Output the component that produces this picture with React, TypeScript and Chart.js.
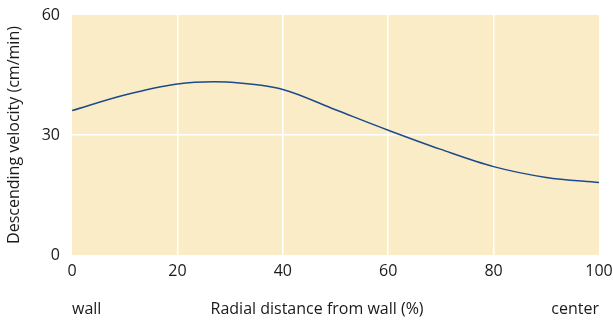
import React, { useEffect, useRef } from "react";
import { Chart, registerables } from "chart.js";

Chart.register(...registerables);

const xValues = [0, 10, 20, 27, 30, 40, 50, 60, 70, 80, 90, 100];
const velocity = [36.1, 40.0, 42.75, 43.3, 43.2, 41.4, 36.3, 31.2, 26.4, 22.1, 19.4, 18.1];
const xTicks = [0, 20, 40, 60, 80, 100];
const yTicks = [0, 30, 60];
const bottomLabels = { left: "wall", middle: "Radial distance from wall (%)", right: "center" };
const yTitle = "Descending velocity (cm/min)";

const FONT = "'Open Sans', 'Noto Sans', sans-serif";
const TEXT = "#1a1a1a";
const BG = "#faecc7";
const LINE = "#1d4a8a";
const FS = 16;

const bgPlugin = {
  id: "bgFill",
  beforeDraw(chart: any) {
    const { ctx, chartArea } = chart;
    ctx.save();
    ctx.fillStyle = BG;
    ctx.fillRect(chartArea.left, chartArea.top, chartArea.right - chartArea.left, chartArea.bottom - chartArea.top);
    ctx.restore();
  },
  afterDraw(chart: any) {
    const { ctx, chartArea } = chart;
    ctx.save();
    ctx.font = `${FS}px ${FONT}`;
    ctx.fillStyle = TEXT;
    ctx.textBaseline = "middle";
    const y = 309;
    ctx.textAlign = "left";
    ctx.fillText(bottomLabels.left, chartArea.left, y);
    ctx.textAlign = "center";
    const xs = chart.scales.x;
    ctx.fillText(bottomLabels.middle, xs.getPixelForValue(46.5), y);
    ctx.textAlign = "right";
    ctx.fillText(bottomLabels.right, chartArea.right, y);
    ctx.restore();
  },
};

export default function App() {
  const ref = useRef<HTMLCanvasElement>(null);
  useEffect(() => {
    if (!ref.current) return;
    const chart = new Chart(ref.current, {
      type: "line",
      data: {
        datasets: [
          {
            data: xValues.map((x, i) => ({ x, y: velocity[i] })),
            borderColor: LINE,
            borderWidth: 1.5,
            pointRadius: 0,
            cubicInterpolationMode: "monotone",
            fill: false,
          },
        ],
      },
      options: {
        animation: false,
        responsive: false,
        maintainAspectRatio: false,
        layout: { padding: { left: 0, right: 14, top: 15, bottom: 0 } },
        plugins: { legend: { display: false }, tooltip: { enabled: false } },
        scales: {
          x: {
            type: "linear",
            min: 0,
            max: 100,
            afterBuildTicks: (s: any) => {
              s.ticks = xTicks.map((v) => ({ value: v }));
            },
            afterFit: (s: any) => {
              s.height = 66;
              s.paddingLeft = 0;
              s.paddingRight = 0;
            },
            border: { display: false },
            grid: {
              drawTicks: false,
              lineWidth: 1.5,
              color: (c: any) => (c.tick && (c.tick.value === 0 || c.tick.value === 100) ? "rgba(0,0,0,0)" : "#ffffff"),
            },
            ticks: { color: TEXT, font: { family: FONT, size: FS }, padding: 7, maxRotation: 0 },
          },
          y: {
            min: 0,
            max: 60,
            afterBuildTicks: (s: any) => {
              s.ticks = yTicks.map((v) => ({ value: v }));
            },
            afterFit: (s: any) => {
              s.width = 72;
              s.paddingTop = 0;
              s.paddingBottom = 0;
            },
            border: { display: false },
            grid: {
              drawTicks: false,
              lineWidth: 1.5,
              color: (c: any) => (c.tick && (c.tick.value === 0 || c.tick.value === 60) ? "rgba(0,0,0,0)" : "#ffffff"),
            },
            ticks: { color: TEXT, font: { family: FONT, size: FS }, padding: 12 },
            title: {
              display: true,
              text: yTitle,
              color: TEXT,
              font: { family: FONT, size: FS },
              padding: { top: 5, bottom: 0 },
            },
          },
        },
      },
      plugins: [bgPlugin],
    } as any);
    return () => chart.destroy();
  }, []);
  return (
    <div style={{ position: "absolute", left: 0, top: 0, width: 613, height: 321 }}>
      <canvas ref={ref} width={613} height={321} style={{ width: 613, height: 321 }} />
    </div>
  );
}
